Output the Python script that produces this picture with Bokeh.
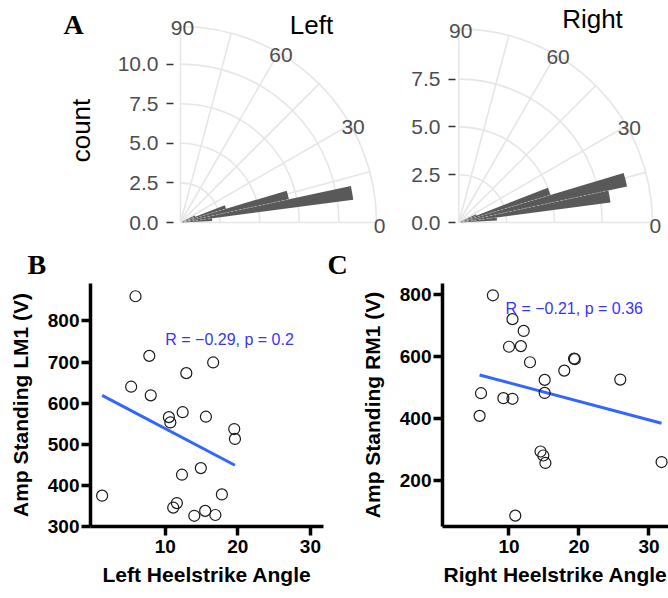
import numpy as np
from bokeh.plotting import figure
from bokeh.models import Range1d, FixedTicker, PrintfTickFormatter, Label, LabelSet, ColumnDataSource
from bokeh.core.properties import value
from bokeh.layouts import row, column
from bokeh.embed import file_html
from bokeh.resources import INLINE

# ---------------- data: panel A (rose histograms) ----------------
bin_edges = [2.9, 7.5, 12.1, 16.7, 21.3, 25.9]
left_counts = [2, 11, 7, 3, 1]
right_counts = [2, 8, 9, 5, 1]
left_count_ticks = [0, 2.5, 5, 7.5, 10]
right_count_ticks = [0, 2.5, 5, 7.5]
theta_breaks = [0, 30, 60, 90]
theta_labels = ["0", "30", "60", "90"]
theta_grid = [0, 15, 30, 45, 60, 75, 90]

# ---------------- data: panel B ----------------
left_angle = [5.9, 7.8, 16.6, 12.9, 5.3, 8.0, 10.5, 10.7, 12.4, 15.6, 19.5,
              19.6, 14.9, 12.3, 1.3, 17.8, 11.6, 11.1, 14.0, 15.5, 16.9]
left_amp = [860, 715, 699, 673, 640, 619, 566, 553, 578, 567, 537,
            513, 442, 426, 375, 378, 357, 346, 326, 338, 328]
left_fit_x = [1.3, 19.6]
left_fit_y = [619, 449]
left_x_ticks = [10, 20, 30]
left_y_ticks = [300, 400, 500, 600, 700, 800]
left_stat = "R = \u22120.29, p = 0.2"

# ---------------- data: panel C ----------------
right_angle = [7.7, 10.5, 12.1, 10.0, 11.7, 13.0, 6.0, 9.2, 10.5, 5.8, 10.9,
               19.3, 19.4, 17.9, 15.1, 15.1, 25.9, 14.5, 14.9, 15.2, 31.8]
right_amp = [797, 720, 682, 631, 633, 581, 481, 465, 463, 408, 86,
             593, 591, 554, 524, 482, 525, 293, 280, 256, 259]
right_fit_x = [5.8, 31.8]
right_fit_y = [540, 384]
right_x_ticks = [10, 20, 30]
right_y_ticks = [200, 400, 600, 800]
right_stat = "R = \u22120.21, p = 0.36"

SANS = "Liberation Sans"
SERIF = "Liberation Serif"
GRID = "#e6e6e6"
BAR = "#595959"
BLUE_LINE = "#3366FF"
BLUE_TEXT = "#3535ff"
TICK_TXT = "#4d4d4d"


def rose(counts, ticks, title, W, H, bl, axis_px, cx, cy, sc, title_px,
         ylabel_px=None, letter_px=None):
    # all *_px positions are canvas pixels of this figure; sc = pixels per count
    xr = Range1d((bl - cx) / sc, (W - cx) / sc)
    yr = Range1d((cy - H) / sc, cy / sc)
    p = figure(width=W, height=H, x_range=xr, y_range=yr, output_backend="svg",
               toolbar_location=None, x_axis_location=None, min_border=0,
               min_border_left=bl, min_border_top=0, min_border_right=0, min_border_bottom=0,
               outline_line_color=None, background_fill_color="white", border_fill_color="white")
    p.grid.visible = False
    r_out = max(counts) * 1.125
    radii = [t for t in ticks if t > 0] + [r_out]
    p.arc(x=[0] * len(radii), y=[0] * len(radii), radius=radii, start_angle=0, end_angle=np.pi / 2,
          line_color=GRID, line_width=1.6)
    th = np.radians(theta_grid)
    p.segment(x0=[0] * len(th), y0=[0] * len(th), x1=r_out * np.cos(th), y1=r_out * np.sin(th),
              line_color=GRID, line_width=1.6)
    p.wedge(x=[0] * len(counts), y=[0] * len(counts), radius=counts,
            start_angle=np.radians(bin_edges[:-1]), end_angle=np.radians(bin_edges[1:]),
            fill_color=BAR, line_color=None)
    inner = np.radians(bin_edges[1:-1])
    seam = [min(a, b) for a, b in zip(counts[:-1], counts[1:])]
    p.segment(x0=[0] * len(seam), y0=[0] * len(seam), x1=np.array(seam) * np.cos(inner),
              y1=np.array(seam) * np.sin(inner), line_color="white", line_alpha=0.4,
              line_width=0.8, line_dash="2 2")
    ta = np.radians(theta_breaks)
    rl = r_out + 1.0 / sc
    src = ColumnDataSource(dict(x=rl * np.cos(ta), y=rl * np.sin(ta), t=theta_labels))
    p.add_layout(LabelSet(x="x", y="y", text="t", source=src, x_offset=2, y_offset=-3,
                          text_align=value("center"), text_baseline=value("middle"),
                          text_font=value(SANS), text_font_size=value("21px"),
                          text_color=value(TICK_TXT)))
    ax = p.yaxis[0]
    ax.fixed_location = (axis_px - cx) / sc
    ax.ticker = FixedTicker(ticks=ticks)
    ax.formatter = PrintfTickFormatter(format="%.1f")
    ax.axis_line_color = None
    ax.major_tick_line_color = "#333333"
    ax.major_tick_line_width = 1.5
    ax.major_tick_out = 7
    ax.major_tick_in = 0
    ax.minor_tick_line_color = None
    ax.major_label_standoff = 8
    ax.major_label_text_font = SANS
    ax.major_label_text_font_size = "21px"
    ax.major_label_text_color = TICK_TXT
    if ylabel_px:
        p.add_layout(Label(x=(ylabel_px[0] - cx) / sc, y=(cy - ylabel_px[1]) / sc, text="count",
                           angle=np.pi / 2, text_align="center", text_baseline="middle",
                           text_font=SANS, text_font_size="26px", text_color="black"))
    p.add_layout(Label(x=(title_px[0] - cx) / sc, y=(cy - title_px[1]) / sc, text=title,
                       text_align="center", text_baseline="middle", text_font=SANS,
                       text_font_size="26px", text_color="black"))
    if letter_px:
        p.add_layout(Label(x=(letter_px[0] - cx) / sc, y=(cy - letter_px[1]) / sc, text="A",
                           text_align="left", text_baseline="middle", text_font=SERIF,
                           text_font_style="bold", text_font_size="28px", text_color="black"))
    return p


def scatter_panel(xs, ys, fx, fy, xt, yt, stat, stat_xy, xlabel, ylabel, letter,
                  W, H, bl, br, bt, bb, xr, yr, letter_offset):
    p = figure(width=W, height=H, x_range=Range1d(*xr), y_range=Range1d(*yr), output_backend="svg",
               toolbar_location=None, min_border=0, min_border_left=bl, min_border_right=br,
               min_border_top=bt, min_border_bottom=bb, outline_line_color=None,
               background_fill_color="white", border_fill_color="white")
    p.grid.visible = False
    p.title.text = letter
    p.title.align = "left"
    p.title.offset = letter_offset
    p.title.vertical_align = "bottom"
    p.title.standoff = 8
    p.title.text_font = SERIF
    p.title.text_font_style = "bold"
    p.title.text_font_size = "28px"
    p.title.text_color = "black"
    p.xaxis.ticker = FixedTicker(ticks=xt)
    p.yaxis.ticker = FixedTicker(ticks=yt)
    for ax in (p.xaxis[0], p.yaxis[0]):
        ax.axis_line_color = "black"
        ax.axis_line_width = 3.5
        ax.major_tick_line_color = "black"
        ax.major_tick_line_width = 3.5
        ax.major_tick_out = 9
        ax.major_tick_in = 0
        ax.minor_tick_line_color = None
        ax.major_label_text_font = SANS
        ax.major_label_text_font_style = "bold"
        ax.major_label_text_font_size = "19px"
        ax.major_label_text_color = "black"
        ax.axis_label_text_font = SANS
        ax.axis_label_text_font_style = "bold"
        ax.axis_label_text_font_size = "21px"
        ax.axis_label_text_color = "black"
    p.xaxis.major_label_standoff = 4
    p.yaxis.major_label_standoff = 2
    p.xaxis.axis_label = xlabel
    p.yaxis.axis_label = ylabel
    p.xaxis.axis_label_standoff = 7
    p.yaxis.axis_label_standoff = 13
    p.line(fx, fy, line_color=BLUE_LINE, line_width=3)
    p.scatter(xs, ys, marker="circle", size=11, fill_color=None, line_color="#1a1a1a", line_width=1.2)
    p.add_layout(Label(x=stat_xy[0], y=stat_xy[1], text=stat, text_align="left", text_baseline="middle",
                       text_font=SANS, text_font_size="16px", text_color=BLUE_TEXT))
    return p


pA1 = rose(left_counts, left_count_ticks, "Left", 395, 240, 60, 173, 180, 222, 15.84, (311, 24),
           ylabel_px=(80, 130), letter_px=(63, 24))
pA2 = rose(right_counts, right_count_ticks, "Right", 273, 240, 10, 60, 63.3, 222, 19.12, (197, 18))

pB = scatter_panel(left_angle, left_amp, left_fit_x, left_fit_y, left_x_ticks, left_y_ticks,
                   left_stat, (10, 755), "Left Heelstrike Angle", "Amp Standing LM1 (V)", "B",
                   325, 358, 90, 2, 43, 68, (-0.3, 31.8), (300, 891), -63)
pC = scatter_panel(right_angle, right_amp, right_fit_x, right_fit_y, right_x_ticks, right_y_ticks,
                   right_stat, (9.5, 755), "Right Heelstrike Angle", "Amp Standing RM1 (V)", "C",
                   343, 358, 117, 0, 40, 72, (0.5, 32.79), (51, 835), -115)

layout = column(row(pA1, pA2, spacing=0), row(pB, pC, spacing=0), spacing=0)
open("out.html", "w").write(file_html(layout, INLINE))
